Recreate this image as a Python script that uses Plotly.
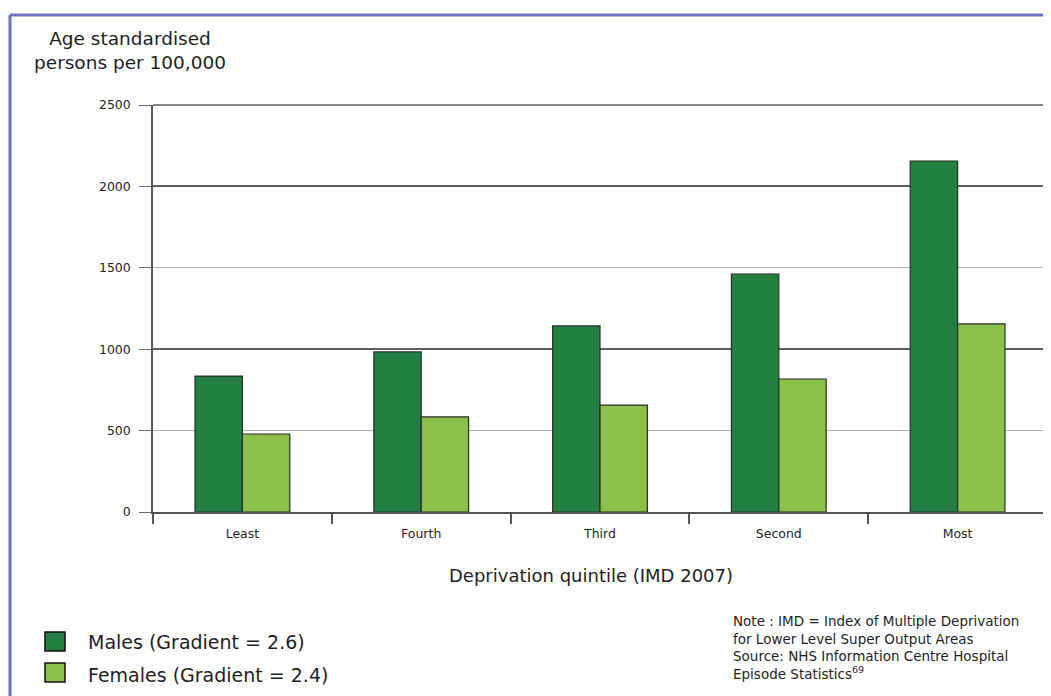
import plotly.graph_objects as go

categories = ["Least", "Fourth", "Third", "Second", "Most"]
males = [835, 983, 1143, 1462, 2156]
females = [479, 584, 657, 817, 1155]
series_names = ["Males (Gradient = 2.6)", "Females (Gradient = 2.4)"]
y_ticks = [0, 500, 1000, 1500, 2000, 2500]

# page body margin of the viewer shifts the figure by 8px
OFF = 8
W, H = 1051 - OFF, 696 - OFF
L, R, T, B = 153, 1047, 105, 512  # plot area in reference pixels
FONT = "DejaVu Sans"
TXT = "#1e1e1e"
MALE_C = "#237f42"
FEMALE_C = "#8bc04a"


def px(x):
    return (x - L) / (R - L)


def py(y):
    return (B - y) / (B - T)


fig = go.Figure()
fig.add_trace(go.Bar(x=categories, y=males, name=series_names[0],
                     marker=dict(color=MALE_C, line=dict(color="#2a2a2a", width=1.2)),
                     showlegend=False))
fig.add_trace(go.Bar(x=categories, y=females, name=series_names[1],
                     marker=dict(color=FEMALE_C, line=dict(color="#2a2a2a", width=1.2)),
                     showlegend=False))
# carrier for the darker 1000-step gridlines
fig.add_trace(go.Scatter(x=[categories[0]], y=[0], yaxis="y2", mode="markers",
                         marker=dict(opacity=0), showlegend=False, hoverinfo="skip"))

fig.update_layout(
    width=W, height=H,
    margin=dict(l=L - OFF, r=W - (R - OFF), t=T - OFF, b=H - (B - OFF), pad=0),
    paper_bgcolor="white", plot_bgcolor="white",
    barmode="group", bargap=0.47, bargroupgap=0,
    font=dict(family=FONT, color=TXT),
    xaxis=dict(
        showline=True, linecolor="#555555", linewidth=1.5,
        ticks="outside", tickson="boundaries", ticklen=10, tickcolor="#555555", tickwidth=1.5,
        tickfont=dict(size=12.5, color=TXT),
        ticklabelstandoff=9,
        showgrid=False,
    ),
    yaxis=dict(
        range=[0, 2500], tickvals=y_ticks,
        showline=True, linecolor="#555555", linewidth=1.5,
        ticks="outside", ticklen=12, tickcolor="#666666", tickwidth=1.2,
        tickfont=dict(size=12.5, color=TXT),
        ticklabelstandoff=6,
        showgrid=True, gridcolor="#b0b0b0", gridwidth=1.2,
        zeroline=False, layer="above traces",
    ),
    yaxis2=dict(
        range=[0, 2500], overlaying="y", dtick=1000, tick0=0,
        showgrid=True, gridcolor="#5e5e5e", gridwidth=1.5,
        showticklabels=False, zeroline=False, showline=False, layer="below traces",
    ),
)

shapes = []
# top line at 2500
shapes.append(dict(type="line", xref="paper", yref="paper", x0=0, x1=1, y0=1, y1=1,
                   line=dict(color="#5e5e5e", width=1.5)))
# frame border
shapes.append(dict(type="line", xref="paper", yref="paper", x0=px(10), x1=px(10),
                   y0=py(15), y1=py(710), line=dict(color="#6a72c2", width=3)))
shapes.append(dict(type="line", xref="paper", yref="paper", x0=px(10), x1=px(1060),
                   y0=py(15), y1=py(15), line=dict(color="#6a72c2", width=3)))
# legend squares
for (y0, y1), c in zip([(632, 651), (663, 682)], [MALE_C, FEMALE_C]):
    shapes.append(dict(type="rect", xref="paper", yref="paper", x0=px(45), x1=px(65),
                       y0=py(y1), y1=py(y0), fillcolor=c, line=dict(color="#111111", width=1.5)))
fig.update_layout(shapes=shapes)

annotations = [
    dict(text="Age standardised<br>persons per 100,000", xref="paper", yref="paper",
         x=px(130), y=py(26), xanchor="center", yanchor="top", align="center",
         showarrow=False, font=dict(size=18.5, color=TXT)),
    dict(text="Deprivation quintile (IMD 2007)", xref="paper", yref="paper",
         x=px(591), y=py(575), xanchor="center", yanchor="middle",
         showarrow=False, font=dict(size=18, color=TXT)),
    dict(text=series_names[0], xref="paper", yref="paper", x=px(86), y=py(642),
         xanchor="left", yanchor="middle", showarrow=False, font=dict(size=19, color=TXT)),
    dict(text=series_names[1], xref="paper", yref="paper", x=px(86), y=py(675),
         xanchor="left", yanchor="middle", showarrow=False, font=dict(size=19, color=TXT)),
    dict(text="Note : IMD = Index of Multiple Deprivation<br>for Lower Level Super Output Areas"
              "<br>Source: NHS Information Centre Hospital<br>Episode Statistics<sup>69</sup>",
         xref="paper", yref="paper", x=px(731), y=py(611), xanchor="left", yanchor="top",
         align="left", showarrow=False, font=dict(size=13.5, color=TXT)),
]
fig.update_layout(annotations=annotations)

fig.write_html("out.html")
